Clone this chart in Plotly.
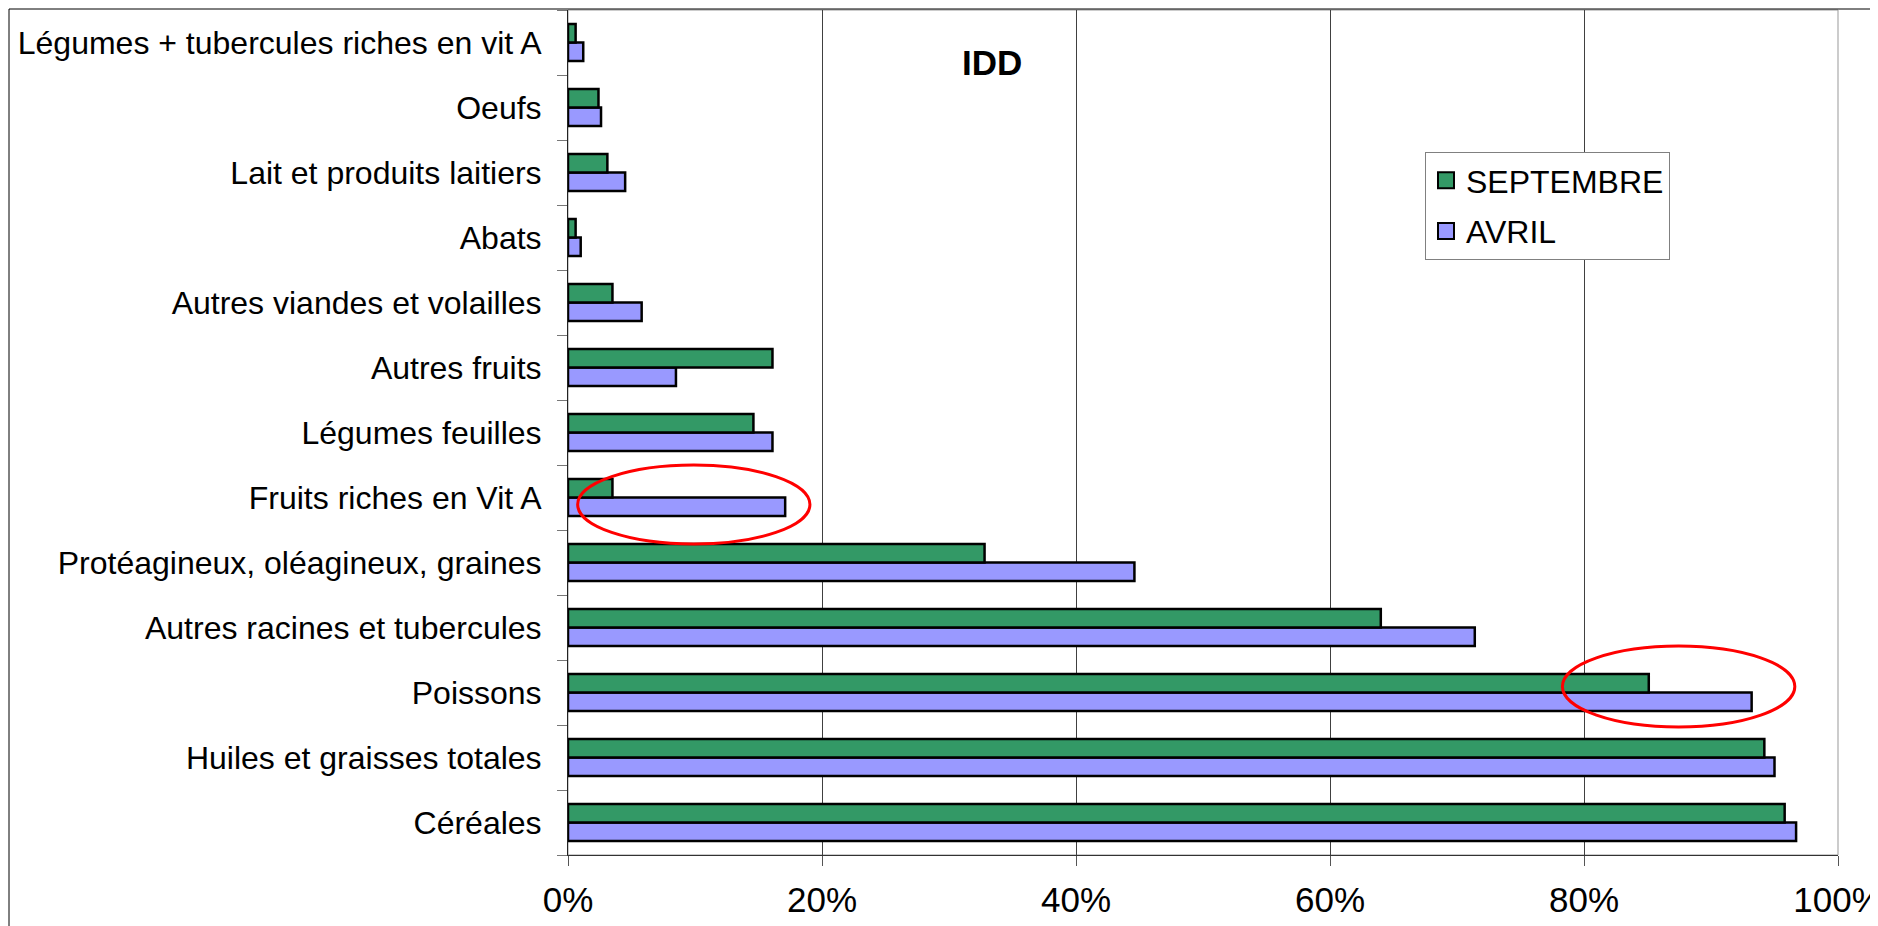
import plotly.graph_objects as go

# Categories listed from bottom to top (as drawn on the axis)
categories = [
    "Céréales",
    "Huiles et graisses totales",
    "Poissons",
    "Autres racines et tubercules",
    "Protéagineux, oléagineux, graines",
    "Fruits riches en Vit A",
    "Légumes feuilles",
    "Autres fruits",
    "Autres viandes et volailles",
    "Abats",
    "Lait et produits laitiers",
    "Oeufs",
    "Légumes + tubercules riches en vit A",
]
septembre = [95.8, 94.2, 85.1, 64.0, 32.8, 3.5, 14.6, 16.1, 3.5, 0.6, 3.1, 2.4, 0.6]
avril = [96.7, 95.0, 93.2, 71.4, 44.6, 17.1, 16.1, 8.5, 5.8, 1.0, 4.5, 2.6, 1.2]
x_ticks = [0, 20, 40, 60, 80, 100]

GREEN = "#339966"
PURPLE = "#9999FF"
FONT = "Liberation Sans, Arial, sans-serif"

W, H = 1878, 926
OFF = 8  # page body margin
# desired plot area in page pixels: x 568..1838, y 10..855
ML = 568 - OFF
MR = W - (1838 - OFF)
MT = 10 - OFF
MB = H - (855 - OFF)
PW = W - ML - MR
PH = H - MT - MB

def px_x(p):  # page pixel -> paper fraction
    return (p - OFF - ML) / PW

def px_y(p):
    return (H - MB - (p - OFF)) / PH

fig = go.Figure()
fig.add_trace(go.Bar(
    y=categories, x=avril, orientation="h", name="AVRIL", showlegend=False,
    marker=dict(color=PURPLE, line=dict(color="black", width=2.5)),
))
fig.add_trace(go.Bar(
    y=categories, x=septembre, orientation="h", name="SEPTEMBRE", showlegend=False,
    marker=dict(color=GREEN, line=dict(color="black", width=2.5)),
))
# legend entries (square swatches)
for nm, col in [("SEPTEMBRE", GREEN), ("AVRIL", PURPLE)]:
    fig.add_trace(go.Scatter(
        x=[None], y=[None], mode="markers", name=nm, legendgroup=nm,
        marker=dict(symbol="square", size=18, color=col, line=dict(color="black", width=2)),
    ))

fig.update_layout(
    template="none",
    width=W, height=H,
    margin=dict(l=ML, r=MR, t=MT, b=MB, pad=0, autoexpand=False),
    paper_bgcolor="white", plot_bgcolor="white",
    barmode="group", bargap=0.43, bargroupgap=0.0,
    font=dict(family=FONT, size=32, color="black"),
    legend=dict(
        x=px_x(1425), y=px_y(152), xanchor="left", yanchor="top",
        bgcolor="white", bordercolor="#808080", borderwidth=1,
        font=dict(size=32, family=FONT, color="black"),
        tracegroupgap=6, traceorder="grouped",
        itemwidth=30,
    ),
    xaxis=dict(
        range=[0, 100], tickvals=x_ticks, ticktext=[f"{v}%" for v in x_ticks],
        showgrid=True, gridcolor="#404040", gridwidth=1,
        showline=True, linecolor="#333333", linewidth=1,
        ticks="outside", ticklen=10, tickcolor="#555555",
        ticklabelstandoff=4, zeroline=False, automargin=False,
        tickfont=dict(size=35),
    ),
    yaxis=dict(
        type="category", showgrid=False,
        showline=True, linecolor="#222222", linewidth=1,
        ticks="outside", ticklen=10, tickcolor="#777777", tickson="boundaries",
        ticklabelstandoff=19, tickfont=dict(size=32), automargin=False,
        zeroline=False,
    ),
    shapes=[
        # plot area border (top/right)
        dict(type="rect", xref="paper", yref="paper", x0=0, x1=1, y0=0, y1=1,
             line=dict(color="#999999", width=1), layer="below"),
        # outer chart border (left/top visible)
        dict(type="rect", xref="paper", yref="paper",
             x0=px_x(9), x1=1.2, y0=-0.3, y1=px_y(9),
             line=dict(color="black", width=1)),
        # highlight ellipses
        dict(type="circle", xref="x", yref="y", x0=0.76, x1=19.05, y0=4.285, y1=5.5,
             line=dict(color="#FF0000", width=3)),
        dict(type="circle", xref="x", yref="y", x0=78.3, x1=96.6, y0=1.47, y1=2.715,
             line=dict(color="#FF0000", width=3)),
    ],
    annotations=[
        dict(text="<b>IDD</b>", xref="paper", yref="paper", x=px_x(992), y=px_y(62),
             xanchor="center", yanchor="middle", showarrow=False,
             font=dict(size=35, family=FONT, color="black")),
    ],
)

fig.write_html("out.html")
